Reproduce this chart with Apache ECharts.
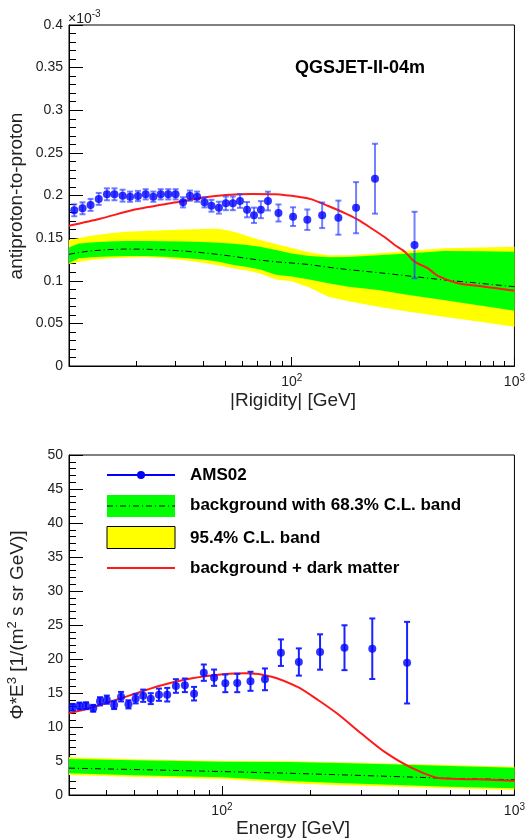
<!DOCTYPE html>
<html>
<head>
<meta charset="utf-8">
<script src="https://cdn.jsdelivr.net/npm/echarts@6/dist/echarts.min.js"></script>
<style>
  html, body { margin: 0; padding: 0; background: #fff; }
  #chart { width: 528px; height: 838px; }
</style>
</head>
<body>
<div id="chart"></div>
<script>
// ---------- upper panel: antiproton-to-proton ratio (x10^-3) vs |Rigidity| ----------
const ratioE   = [10.56, 11.5, 12.5, 13.6, 14.8, 16.0, 17.4, 18.8, 20.4, 22.1, 23.9, 25.8, 27.9, 30.1, 32.5, 34.9, 37.6, 40.6, 43.6, 47.1, 50.6, 54.4, 58.6, 63.0, 67.7, 72.7, 78.2, 87.2, 101.4, 117.5, 137, 162, 194.5, 236.5, 356];
const ratioVal = [0.1826, 0.185, 0.189, 0.196, 0.2014, 0.2014, 0.1998, 0.1986, 0.1994, 0.2014, 0.1986, 0.2014, 0.2014, 0.2014, 0.192, 0.1998, 0.1986, 0.192, 0.188, 0.1857, 0.1908, 0.1908, 0.1935, 0.1834, 0.1768, 0.1834, 0.1935, 0.1795, 0.1752, 0.1716, 0.1768, 0.174, 0.1857, 0.2197, 0.1419];
const ratioErr = [0.007, 0.007, 0.007, 0.007, 0.007, 0.007, 0.007, 0.006, 0.006, 0.006, 0.006, 0.006, 0.006, 0.006, 0.006, 0.006, 0.006, 0.006, 0.007, 0.007, 0.008, 0.008, 0.008, 0.009, 0.009, 0.01, 0.011, 0.01, 0.011, 0.012, 0.015, 0.02, 0.03, 0.041, 0.039];

const bandE    = [10, 11, 12.5, 15, 18, 22, 27, 33, 40, 47, 55, 63, 72, 85, 100, 120, 146, 180, 245, 330, 480, 700, 1000];
const bandMid  = [0.131, 0.133, 0.135, 0.1365, 0.1372, 0.137, 0.1362, 0.1348, 0.1328, 0.1308, 0.1285, 0.1262, 0.1242, 0.1222, 0.1208, 0.119, 0.1158, 0.113, 0.1095, 0.1058, 0.101, 0.097, 0.093];
const band68Hi = [0.139, 0.1435, 0.145, 0.146, 0.1466, 0.1466, 0.1464, 0.146, 0.1455, 0.1447, 0.1435, 0.142, 0.14, 0.136, 0.132, 0.129, 0.1275, 0.128, 0.13, 0.132, 0.1349, 0.1345, 0.134];
const band68Lo = [0.1205, 0.126, 0.1275, 0.1285, 0.129, 0.129, 0.1282, 0.1268, 0.125, 0.1222, 0.1185, 0.116, 0.1132, 0.107, 0.105, 0.1015, 0.097, 0.093, 0.0892, 0.0835, 0.0774, 0.071, 0.0649];
const band95Hi = [0.1478, 0.15, 0.1528, 0.1555, 0.1576, 0.1585, 0.1592, 0.16, 0.1608, 0.161, 0.1575, 0.1525, 0.1478, 0.143, 0.1385, 0.1335, 0.13, 0.13, 0.1322, 0.135, 0.138, 0.139, 0.14];
const band95Lo = [0.1197, 0.122, 0.1243, 0.126, 0.127, 0.1275, 0.1265, 0.124, 0.1212, 0.118, 0.1145, 0.112, 0.1085, 0.1015, 0.0995, 0.092, 0.0813, 0.076, 0.0696, 0.064, 0.0578, 0.052, 0.0461];

const dmE   = [10, 13.8, 20, 30.3, 39.8, 50.6, 66.6, 84.4, 107, 123, 146, 174, 199, 228, 262, 290, 322, 356, 409, 453, 557, 733, 1000];
const dmVal = [0.1646, 0.1728, 0.1838, 0.192, 0.1974, 0.2006, 0.2018, 0.2014, 0.1985, 0.1955, 0.1877, 0.179, 0.1713, 0.1615, 0.151, 0.142, 0.134, 0.1224, 0.1146, 0.1056, 0.097, 0.093, 0.0884];

// ---------- lower panel: Phi*E^3 vs Energy ----------
const fluxE   = [30.9, 32.6, 34.3, 36.3, 38.3, 40.4, 42.8, 45.2, 47.9, 50.7, 53.8, 57.1, 60.9, 65.0, 69.6, 74.7, 80.3, 86.7, 94.0, 102.7, 112.8, 125.2, 140.3, 159.1, 183.2, 216.5, 262.4, 326.6, 429.5];
const fluxVal = [12.9, 13.09, 13.13, 12.75, 13.78, 14.02, 13.24, 14.46, 13.33, 14.17, 14.6, 14.17, 14.75, 14.75, 16.03, 16.13, 14.9, 17.99, 17.25, 16.42, 16.47, 16.72, 17.01, 20.93, 19.56, 21.03, 21.66, 21.51, 19.46];
const fluxErr = [0.5, 0.5, 0.5, 0.5, 0.6, 0.6, 0.6, 0.7, 0.6, 0.7, 0.9, 0.8, 0.9, 1.0, 1.0, 1.0, 1.0, 1.2, 1.2, 1.3, 1.35, 1.4, 1.6, 1.95, 2.0, 2.6, 3.3, 4.45, 6.0];

const fbandE    = [30, 50, 100, 170, 250, 400, 600, 1000];
const fbandMid  = [3.95, 3.75, 3.45, 3.2, 2.98, 2.7, 2.45, 2.25];
const fband68Hi = [5.3, 5.1, 4.9, 4.85, 4.7, 4.5, 4.25, 4.0];
const fband68Lo = [3.19, 2.9, 2.6, 2.06, 1.75, 1.47, 1.2, 0.98];
const fband95Hi = [5.54, 5.25, 5.0, 4.95, 4.8, 4.6, 4.4, 4.17];
const fband95Lo = [2.94, 2.65, 2.35, 1.72, 1.45, 1.22, 0.98, 0.74];

const fdmE   = [30, 36.2, 47, 60.9, 79.1, 102.7, 120, 147.9, 182, 213, 249, 299, 359, 442, 559, 745, 1000];
const fdmVal = [12.0, 12.9, 14.46, 16.03, 17.16, 17.79, 17.9, 17.4, 15.85, 13.97, 11.9, 9.07, 6.37, 4.07, 2.45, 2.3, 2.1];

// minor ticks of the logarithmic axes
const minorTop    = [20, 30, 40, 50, 60, 70, 80, 90, 200, 300, 400, 500, 600, 700, 800, 900];
const minorBottom = [40, 50, 60, 70, 80, 90, 200, 300, 400, 500, 600, 700, 800, 900];

// ---------- styling helpers ----------
const FONT = '"Liberation Sans", Arial, Helvetica, sans-serif';
const BLUE = '#0000ff';
const GREEN = '#00ff00';
const YELLOW = '#ffff00';
const RED = '#ff1a1a';

const pairs = (xs, ys) => xs.map((x, i) => [x, ys[i]]);

function logLabel(v) {
  if (Math.abs(v - 100) < 1e-6) return '{b|10}{s|2}';
  if (Math.abs(v - 1000) < 1e-6) return '{b|10}{s|3}';
  return '';
}

function xAxisCfg(gridIndex, min) {
  return {
    type: 'log', logBase: 10, gridIndex, min, max: 1000,
    axisLine: { lineStyle: { color: '#000', width: 1 } },
    axisTick: { inside: true, length: 9, lineStyle: { color: '#000' } },
    splitLine: { show: false },
    axisLabel: {
      formatter: logLabel, margin: 7,
      rich: {
        b: { fontSize: 14, fontFamily: FONT, color: '#222' },
        s: { fontSize: 10, fontFamily: FONT, color: '#222', padding: [0, 0, 9, 0] }
      }
    }
  };
}

function yAxisCfg(gridIndex, max, interval) {
  return {
    type: 'value', gridIndex, min: 0, max, interval,
    axisLine: { show: true, lineStyle: { color: '#000', width: 1 } },
    axisTick: { inside: true, length: 14, lineStyle: { color: '#000' } },
    minorTick: { show: true, splitNumber: 5, length: 7, lineStyle: { color: '#000' } },
    splitLine: { show: false },
    axisLabel: { fontSize: 14, fontFamily: FONT, color: '#222', margin: 6 }
  };
}

// A confidence band: one polygon following the upper edge forward and the
// lower edge backward, positioned through the axis scales.
function bandSeries(idx, xs, lo, hi, color, z) {
  return {
    type: 'custom', xAxisIndex: idx, yAxisIndex: idx, z, silent: true, clip: true,
    data: xs.map((x, i) => [x, lo[i], hi[i]]),
    encode: { x: 0, y: [1, 2] },
    renderItem(params, api) {
      if (params.dataIndex !== 0) return null;
      const upper = xs.map((x, i) => api.coord([x, hi[i]]));
      const lower = xs.map((x, i) => api.coord([x, lo[i]])).reverse();
      return { type: 'polygon', shape: { points: upper.concat(lower) }, style: { fill: color } };
    }
  };
}

function errorBars(idx, xs, ys, es, color) {
  return {
    type: 'custom', xAxisIndex: idx, yAxisIndex: idx, z: 5,
    data: xs.map((x, i) => [x, ys[i] - es[i], ys[i] + es[i]]),
    encode: { x: 0, y: [1, 2] },
    renderItem(params, api) {
      const top = api.coord([api.value(0), api.value(2)]);
      const bot = api.coord([api.value(0), api.value(1)]);
      const st = { stroke: color, lineWidth: 2 };
      return { type: 'group', children: [
        { type: 'line', shape: { x1: top[0], y1: top[1], x2: bot[0], y2: bot[1] }, style: st },
        { type: 'line', shape: { x1: top[0] - 3, y1: top[1], x2: top[0] + 3, y2: top[1] }, style: st },
        { type: 'line', shape: { x1: bot[0] - 3, y1: bot[1], x2: bot[0] + 3, y2: bot[1] }, style: st }
      ]};
    }
  };
}

function minorTicks(idx, values) {
  return {
    type: 'custom', xAxisIndex: idx, yAxisIndex: idx, z: 6, silent: true, clip: false,
    data: values.map(v => [v, 0]),
    encode: { x: 0, y: 1 },
    renderItem(params, api) {
      const p = api.coord([api.value(0), api.value(1)]);
      const x = Math.round(p[0]) + 0.5;
      return { type: 'line', shape: { x1: x, y1: p[1], x2: x, y2: p[1] - 5 },
               style: { stroke: '#000', lineWidth: 1 } };
    }
  };
}

const series = [
  // upper panel
  bandSeries(0, bandE, band95Lo, band95Hi, YELLOW, 1),
  bandSeries(0, bandE, band68Lo, band68Hi, GREEN, 2),
  { type: 'line', xAxisIndex: 0, yAxisIndex: 0, data: pairs(bandE, bandMid), symbol: 'none', z: 3,
    lineStyle: { color: '#000', width: 1, type: [6, 3, 1, 3] } },
  { type: 'line', xAxisIndex: 0, yAxisIndex: 0, data: pairs(dmE, dmVal), symbol: 'none', smooth: 0.25, z: 4,
    lineStyle: { color: RED, width: 2 } },
  errorBars(0, ratioE, ratioVal, ratioErr, 'rgba(40,60,255,0.65)'),
  { type: 'scatter', xAxisIndex: 0, yAxisIndex: 0, data: pairs(ratioE, ratioVal), symbol: 'circle',
    symbolSize: 8, itemStyle: { color: BLUE }, z: 6 },
  minorTicks(0, minorTop),

  // lower panel
  bandSeries(1, fbandE, fband95Lo, fband95Hi, YELLOW, 1),
  bandSeries(1, fbandE, fband68Lo, fband68Hi, GREEN, 2),
  { type: 'line', xAxisIndex: 1, yAxisIndex: 1, data: pairs(fbandE, fbandMid), symbol: 'none', z: 3,
    lineStyle: { color: '#000', width: 1, type: [6, 3, 1, 3] } },
  { type: 'line', xAxisIndex: 1, yAxisIndex: 1, data: pairs(fdmE, fdmVal), symbol: 'none', smooth: 0.25, z: 4,
    lineStyle: { color: RED, width: 2 } },
  errorBars(1, fluxE, fluxVal, fluxErr, '#1a22ff'),
  { type: 'scatter', xAxisIndex: 1, yAxisIndex: 1, data: pairs(fluxE, fluxVal), symbol: 'circle',
    symbolSize: 8, itemStyle: { color: BLUE }, z: 6 },
  minorTicks(1, minorBottom)
];

// legend and titles drawn as graphic elements
const legendX0 = 107, legendX1 = 175, legendTextX = 190;
const boldText = (text, y) => ({
  type: 'text', x: legendTextX, y, z: 10,
  style: { text, font: 'bold 17px ' + FONT, fill: '#000', align: 'left', verticalAlign: 'middle' }
});

const graphic = [
  // axis titles
  { type: 'text', x: 17, y: 196, rotation: Math.PI / 2,
    style: { text: 'antiproton-to-proton', font: '19px ' + FONT, fill: '#222', align: 'center', verticalAlign: 'middle' } },
  { type: 'text', x: 293, y: 401,
    style: { text: '|Rigidity| [GeV]', font: '19px ' + FONT, fill: '#222', align: 'center', verticalAlign: 'middle' } },
  { type: 'text', x: 293, y: 829,
    style: { text: 'Energy [GeV]', font: '19px ' + FONT, fill: '#222', align: 'center', verticalAlign: 'middle' } },
  { type: 'text', x: 18, y: 625, rotation: Math.PI / 2,
    style: {
      text: '{n|\u03A6*E}{s|3}{n| [1/(m}{s|2}{n| s sr GeV)]}', align: 'center', verticalAlign: 'middle',
      rich: {
        n: { font: '19px ' + FONT, fill: '#222' },
        s: { font: '13px ' + FONT, fill: '#222', padding: [0, 0, 11, 0] }
      }
    } },
  // exponent of the upper y axis
  { type: 'text', x: 68, y: 19,
    style: {
      text: '{a|\u00D710}{b|-3}', align: 'left', verticalAlign: 'middle',
      rich: {
        a: { font: '14px ' + FONT, fill: '#222' },
        b: { font: '10px ' + FONT, fill: '#222', padding: [0, 0, 10, 0] }
      }
    } },
  // model label
  { type: 'text', x: 295, y: 68,
    style: { text: 'QGSJET-II-04m', font: 'bold 18px ' + FONT, fill: '#000', align: 'left', verticalAlign: 'middle' } },

  // legend: AMS02
  { type: 'line', z: 10, shape: { x1: legendX0, y1: 475, x2: legendX1, y2: 475 }, style: { stroke: BLUE, lineWidth: 2 } },
  { type: 'circle', z: 10, shape: { cx: 141, cy: 475, r: 4 }, style: { fill: BLUE } },
  boldText('AMS02', 475),
  // legend: background with 68.3% band
  { type: 'rect', z: 10, shape: { x: legendX0, y: 495, width: legendX1 - legendX0, height: 22 }, style: { fill: GREEN } },
  { type: 'line', z: 11, shape: { x1: legendX0, y1: 506, x2: legendX1, y2: 506 },
    style: { stroke: '#000', lineWidth: 1, lineDash: [6, 3, 1, 3] } },
  boldText('background with 68.3% C.L. band', 505),
  // legend: 95.4% band
  { type: 'rect', z: 10, shape: { x: legendX0, y: 526.5, width: legendX1 - legendX0, height: 22 },
    style: { fill: YELLOW, stroke: '#000', lineWidth: 1 } },
  boldText('95.4% C.L. band', 538),
  // legend: background + dark matter
  { type: 'line', z: 10, shape: { x1: legendX0, y1: 568, x2: legendX1, y2: 568 }, style: { stroke: RED, lineWidth: 2 } },
  boldText('background + dark matter', 568)
];

const chart = echarts.init(document.getElementById('chart'), null, { renderer: 'canvas' });
chart.setOption({
  backgroundColor: '#fff',
  animation: false,
  textStyle: { fontFamily: FONT },
  grid: [
    { left: 69, right: 10, top: 25, height: 341, show: true, borderColor: '#000', borderWidth: 1, backgroundColor: 'transparent' },
    { left: 69, right: 10, top: 455, height: 340, show: true, borderColor: '#000', borderWidth: 1, backgroundColor: 'transparent' }
  ],
  xAxis: [xAxisCfg(0, 10), xAxisCfg(1, 30)],
  yAxis: [yAxisCfg(0, 0.4, 0.05), yAxisCfg(1, 50, 5)],
  series,
  graphic
});
</script>
</body>
</html>
